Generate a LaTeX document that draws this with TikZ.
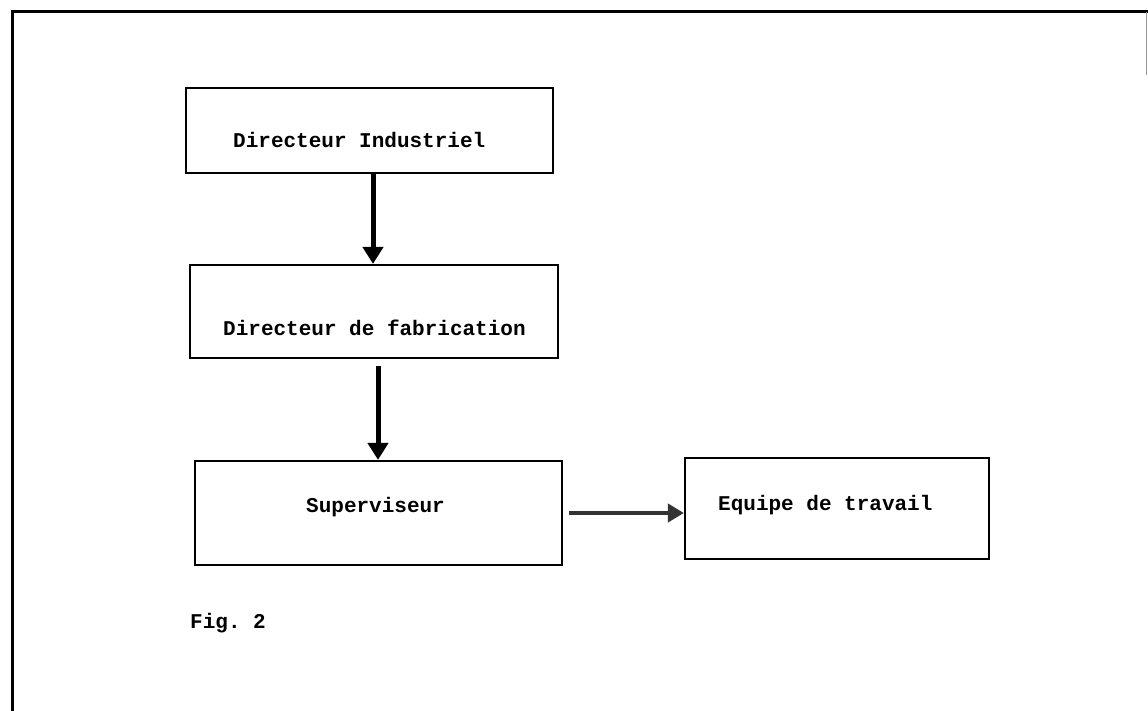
\documentclass[tikz,border=0pt]{standalone}
\usepackage{fontspec}
\setmonofont{Liberation Mono}
\usetikzlibrary{arrows.meta}
\tikzset{
  box/.style={draw=black, line width=2.2bp, minimum width=#1, inner sep=0pt},
  lbl/.style={anchor=base west, inner sep=0pt, font=\ttfamily\bfseries\fontsize{21bp}{24bp}\selectfont},
  varrow/.style={line width=5bp, -{Triangle[width=20bp,length=17bp]}},
  harrow/.style={line width=4bp, black!80, -{Triangle[width=18bp,length=16bp]}},
}
\begin{document}
\begin{tikzpicture}[x=1bp,y=-1bp]
\useasboundingbox (0,0) rectangle (1148,711);
% outer frame
\draw[line width=3bp] (12,711) -- (12,12) -- (1148,12);
\draw[line width=1bp, black!40] (1146.5,12) -- (1146.5,75);
% boxes
\node[box=367bp, minimum height=85bp] (b1) at (369.5,130.5) {};
\node[box=368bp, minimum height=93bp] (b2) at (374,311.5) {};
\node[box=367bp, minimum height=104bp] (b3) at (378.5,513) {};
\node[box=304bp, minimum height=101bp] (b4) at (837,508.5) {};
% texts
\node[lbl] (t1) at (233,148) {Directeur Industriel};
\node[lbl] (t2) at (223,335) {Directeur de fabrication};
\node[lbl] (t3) at (306,512) {Superviseur};
\node[lbl] (t4) at (718,510) {Equipe de travail};
\node[lbl] (fig) at (190,628) {Fig. 2};
% connectors
\draw[varrow] ([xshift=3.5bp]b1.south) -- ([xshift=3.5bp]b1.south |- b2.north);
\draw[varrow] ([xshift=4bp,yshift=-7bp]b2.south) -- ([xshift=4bp]b2.south |- b3.north);
\draw[harrow] ([xshift=6bp]b3.east) -- (b3.east -| b4.west);
\end{tikzpicture}
\end{document}
